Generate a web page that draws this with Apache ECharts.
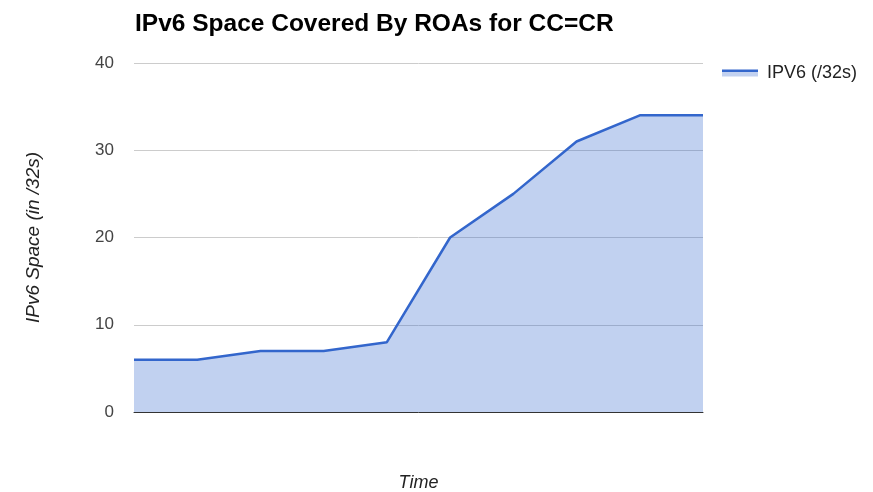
<!DOCTYPE html>
<html><head><meta charset="utf-8">
<script src="https://cdn.jsdelivr.net/npm/echarts@6/dist/echarts.min.js"></script>
<style>html,body{margin:0;padding:0;background:#fff;overflow:hidden}#c{width:873px;height:492px}</style>
</head><body><div id="c"></div>
<script>
const categories = ['1','2','3','4','5','6','7','8','9','10'];
const ipv6Values = [6, 6, 7, 7, 8, 20, 25, 31, 34, 34];
const yTicks = [0, 10, 20, 30, 40];
const seriesName = 'IPV6 (/32s)';

const chart = echarts.init(document.getElementById('c'));
chart.setOption({
  animation: false,
  textStyle: {fontFamily: 'Liberation Sans, Arial, sans-serif'},
  title: {
    text: 'IPv6 Space Covered By ROAs for CC=CR',
    left: 130, top: 7,
    textStyle: {fontSize: 24.5, fontWeight: 'bold', color: '#000', fontFamily: 'Liberation Sans, Arial, sans-serif'}
  },
  legend: {
    data: [{name: seriesName, icon: 'rect'}],
    left: 717, top: 59,
    itemWidth: 36, itemHeight: 7,
    itemGap: 8,
    itemStyle: {
      color: {type: 'linear', x: 0, y: 0, x2: 0, y2: 1, colorStops: [
        {offset: 0, color: '#3366cc'}, {offset: 0.4, color: '#3366cc'},
        {offset: 0.4, color: '#c2d1f0'}, {offset: 1, color: '#c2d1f0'}]},
      borderWidth: 0
    },
    lineStyle: {width: 0, opacity: 0},
    textStyle: {fontSize: 18, color: '#222', padding: [0, 0, 0, 4]}
  },
  grid: {left: 134, right: 170, top: 63, bottom: 80, containLabel: false, outerBoundsMode: 'none'},
  xAxis: {
    type: 'category',
    data: categories,
    boundaryGap: false,
    name: 'Time',
    nameLocation: 'middle',
    nameGap: 62,
    nameTextStyle: {fontStyle: 'italic', fontSize: 18, color: '#222'},
    axisLine: {show: true, lineStyle: {color: '#333', width: 1}},
    axisTick: {show: false},
    axisLabel: {show: false}
  },
  yAxis: {
    type: 'value',
    min: yTicks[0], max: yTicks[yTicks.length - 1], interval: 10,
    name: 'IPv6 Space (in /32s)',
    nameLocation: 'middle',
    nameGap: 91,
    nameRotate: 90,
    nameTextStyle: {fontStyle: 'italic', fontSize: 19, color: '#222'},
    axisLine: {show: false},
    axisTick: {show: false},
    axisLabel: {fontSize: 17, color: '#444', margin: 20},
    splitLine: {lineStyle: {color: '#cccccc', width: 1}}
  },
  series: [{
    name: seriesName,
    type: 'line',
    data: ipv6Values,
    showSymbol: false,
    symbol: 'none',
    lineStyle: {color: '#3366cc', width: 2.5},
    itemStyle: {color: '#3366cc'},
    areaStyle: {color: '#3366cc', opacity: 0.3},
    z: 3
  }]
});
</script></body></html>
